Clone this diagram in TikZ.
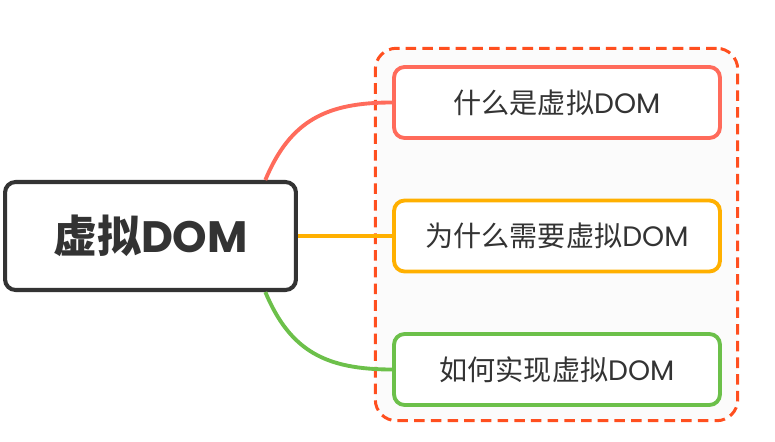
\documentclass[tikz,border=0pt]{standalone}
\usepackage{fontspec}
\setmainfont{Poppins}
\newfontfamily\cjk{Noto Sans CJK SC}
\definecolor{ink}{HTML}{333333}
\definecolor{coral}{HTML}{FF6B5B}
\definecolor{gold}{HTML}{FFB000}
\definecolor{grass}{HTML}{6CC04A}
\definecolor{flame}{HTML}{FF4F1F}
\definecolor{paper}{HTML}{FBFBFB}
\tikzset{
  core/.style={draw=ink,fill=white,line width=2.3pt,rounded corners=6pt,
    minimum width=5.82cm,minimum height=2.16cm,text=ink,
    font=\fontsize{25}{30}\selectfont\bfseries},
  topic/.style={draw=#1,fill=white,line width=2.2pt,rounded corners=6pt,
    minimum width=6.52cm,minimum height=1.42cm,text=ink,
    font=\fontsize{16}{20}\selectfont},
  topic/.default=coral,
  link/.style={draw=#1,line width=2.2pt},
  grp/.style={draw=flame,fill=paper,line width=1.7pt,dash pattern=on 6pt off 3.5pt,
    rounded corners=12pt,minimum width=7.25cm,minimum height=7.45cm},
}
\begin{document}
\begin{tikzpicture}[x=0.02cm,y=-0.02cm]
  \useasboundingbox (0,0) rectangle (775,442);
  \node[grp] (g) at (556.5,234.5) {};
  \node[core] (root) at (150.5,236) {{\cjk 虚拟}DOM};
  \node[topic=coral] (q1) at (557,102.5) {{\cjk 什么是虚拟}DOM};
  \node[topic=gold] (q2) at (557,236) {{\cjk 为什么需要虚拟}DOM};
  \node[topic=grass] (q3) at (557,369.5) {{\cjk 如何实现虚拟}DOM};
  % branches
  \draw[link=coral] (root.26) .. controls +(25,-60) and +(-65,0) .. (q1.west);
  \draw[link=gold] (root.east) -- (q2.west);
  \draw[link=grass] (root.-26) .. controls +(25,60) and +(-65,0) .. (q3.west);
\end{tikzpicture}
\end{document}
